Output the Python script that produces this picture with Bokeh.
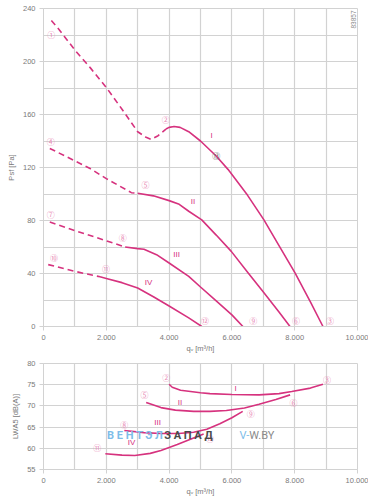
from math import pi
from bokeh.plotting import figure
from bokeh.layouts import column
from bokeh.models import FixedTicker, CustomJSTickFormatter, Label, Range1d
from bokeh.core.properties import value
from bokeh.embed import file_html
from bokeh.resources import INLINE

PINK = "#d6327e"
MARK = "#e98cb7"
GRID = "#d2d2d2"
TXT = "#7a7a7a"

# ---------------- top chart: static pressure vs flow ----------------
x_ticks = [0, 2000, 4000, 6000, 8000, 10000]
x_grid = [0, 1000, 2000, 3000, 4000, 5000, 6000, 7000, 8000, 9000, 10000]
p_ticks = [0, 40, 80, 120, 160, 200, 240]
p_grid = [0, 20, 40, 60, 80, 100, 120, 140, 160, 180, 200, 220, 240]

I_dash_x = [250, 500, 1000, 1500, 2000, 2500, 3000, 3250, 3430, 3650, 3900]
I_dash_y = [231, 224, 208.6, 195, 180.4, 164, 147, 143, 141.2, 144, 149]
I_x = [3900, 4000, 4160, 4350, 4625, 5000, 5500, 5875, 6500, 7020, 7500, 8010, 8500, 8900]
I_y = [149, 150.3, 151, 150.3, 147, 140, 128.7, 118.6, 99, 80.5, 61, 40.4, 18.5, 0]

II_dash_x = [200, 1000, 1500, 2000, 2800, 3000]
II_dash_y = [134.4, 125, 119, 111.6, 101, 100.6]
II_x = [3000, 3500, 4000, 4300, 4625, 5040, 5500, 5980, 6500, 7020, 7500, 7850]
II_y = [100.6, 98.6, 95, 92.5, 87, 80.5, 69, 56.7, 41, 25.4, 10.9, 0]

III_dash_x = [200, 1000, 2000, 2600]
III_dash_y = [78.8, 72.4, 64.7, 60]
III_x = [2600, 3000, 3200, 3600, 4000, 4625, 5000, 5500, 6000, 6350]
III_y = [60, 58.8, 58.3, 54.2, 47.9, 37.8, 29.8, 19.3, 8.8, 0]

IV_dash_x = [150, 1000, 1800]
IV_dash_y = [46.7, 41.6, 37.5]
IV_x = [1800, 2000, 2500, 3000, 3500, 4000, 4625, 5040]
IV_y = [37.5, 36.3, 33.1, 29, 22.5, 15.5, 6.5, 0]

top_mark_txt = ["①", "②", "③", "④", "⑤", "⑥", "⑦", "⑧", "⑨", "⑩", "⑪", "⑫"]
top_mark_x = [250, 3897, 9125, 228, 3250, 8040, 228, 2522, 6678, 334, 1990, 5147]
top_mark_y = [220.5, 156.3, 4.7, 140, 106.8, 4.5, 84.3, 67.2, 4.5, 51.7, 43.6, 4.5]
op_txt = ["⑬"]
op_x = [5500]
op_y = [128.7]

roman = ["I", "II", "III", "IV"]
top_roman_x = [5353, 4760, 4240, 3344]
top_roman_y = [144.5, 94.3, 54.2, 33.3]

# ---------------- bottom chart: sound power vs flow ----------------
l_ticks = [55, 60, 65, 70, 75, 80]

LI_x = [4000, 4100, 4365, 5000, 5300, 6000, 6865, 7500, 7906, 8500, 8900]
LI_y = [75.1, 74.4, 73.7, 73.1, 72.9, 72.7, 72.6, 72.9, 73.4, 74.2, 75.1]
LII_x = [3270, 3740, 4200, 4781, 5300, 5823, 6400, 6865, 7400, 7854]
LII_y = [70.8, 69.6, 69.0, 68.7, 68.7, 68.9, 69.5, 70.4, 71.5, 72.6]
LIII_x = [2573, 3200, 3740, 4300, 4781, 5200, 5615, 6000, 6344]
LIII_y = [64.2, 63.7, 63.5, 63.5, 63.8, 64.5, 65.8, 67.2, 68.7]
LIV_x = [1969, 2500, 2906, 3400, 3740, 4260, 4700, 5100]
LIV_y = [58.7, 58.4, 58.3, 58.8, 59.5, 60.9, 62.2, 63.4]

bot_mark_txt = ["②", "③", "⑤", "⑥", "⑧", "⑨", "⑪", "⑫"]
bot_mark_x = [3906, 9031, 3219, 7958, 2573, 6604, 1708, 5302]
bot_mark_y = [76.6, 76.3, 72.6, 70.8, 65.7, 68.1, 60.1, 62.2]
bot_roman_x = [6115, 4344, 3635, 2802]
bot_roman_y = [74.2, 70.7, 66.1, 61.4]

fmt = CustomJSTickFormatter(code="return tick == 0 ? '0' : (tick/1000).toFixed(3);")


def style(p, yt, ygrid, xlabel, ylabel):
    p.xaxis.ticker = FixedTicker(ticks=x_ticks)
    p.yaxis.ticker = FixedTicker(ticks=yt)
    p.xaxis.formatter = fmt
    p.xgrid.ticker = FixedTicker(ticks=x_grid)
    p.ygrid.ticker = FixedTicker(ticks=ygrid)
    p.grid.grid_line_color = GRID
    p.grid.grid_line_width = 1.2
    p.axis.axis_line_color = GRID
    p.axis.major_tick_line_color = GRID
    p.axis.major_tick_in = 0
    p.axis.major_tick_out = 4
    p.axis.minor_tick_line_color = None
    p.axis.major_label_text_font = "Liberation Sans"
    p.axis.major_label_text_font_size = "7.5px"
    p.axis.major_label_text_color = TXT
    p.axis.major_label_standoff = 4
    p.xaxis.axis_label = xlabel
    p.yaxis.axis_label = ylabel
    p.axis.axis_label_text_font = "Liberation Sans"
    p.axis.axis_label_text_font_size = "7.5px"
    p.axis.axis_label_text_font_style = "normal"
    p.axis.axis_label_text_color = TXT
    p.xaxis.axis_label_standoff = 1
    p.yaxis.axis_label_standoff = 4
    p.outline_line_color = GRID
    p.background_fill_color = "white"
    p.border_fill_color = "white"


p1 = figure(width=365, height=352, x_range=Range1d(0, 10000), y_range=Range1d(0, 240),
            output_backend="svg", toolbar_location=None,
            min_border_left=34, min_border_right=11, min_border_top=5, min_border_bottom=28)
style(p1, p_ticks, p_grid, "qᵥ [m³/h]", "Psf [Pa]")

for dx, dy, sx, sy in [(I_dash_x, I_dash_y, I_x, I_y), (II_dash_x, II_dash_y, II_x, II_y),
                       (III_dash_x, III_dash_y, III_x, III_y), (IV_dash_x, IV_dash_y, IV_x, IV_y)]:
    p1.line(dx, dy, line_color=PINK, line_width=1.6, line_dash="6 4")
    p1.line(sx, sy, line_color=PINK, line_width=1.6)

p1.text(x=top_mark_x, y=top_mark_y, text=top_mark_txt, text_font=value("Noto Sans CJK JP"),
        text_font_size="8px", text_color=MARK, text_align="center", text_baseline="middle")
p1.text(x=op_x, y=op_y, text=op_txt, text_font=value("Noto Sans CJK JP"),
        text_font_size="8px", text_color="#666666", text_align="center", text_baseline="middle")
p1.text(x=top_roman_x, y=top_roman_y, text=roman, text_font=value("Liberation Sans"),
        text_font_size="8px", text_color=PINK, text_align="center", text_baseline="middle")

p1.add_layout(Label(x=9875, y=238.5, text="83857", angle=pi / 2, text_align="right",
                    text_baseline="middle", text_font="Liberation Sans", text_font_size="6.5px",
                    text_color="#888888"))

p2 = figure(width=365, height=144, x_range=Range1d(0, 10000), y_range=Range1d(55, 80),
            output_backend="svg", toolbar_location=None,
            min_border_left=34, min_border_right=11, min_border_top=8, min_border_bottom=30)
style(p2, l_ticks, l_ticks, "qᵥ [m³/h]", "LWA5 [dB(A)]")

for sx, sy in [(LI_x, LI_y), (LII_x, LII_y), (LIII_x, LIII_y), (LIV_x, LIV_y)]:
    p2.line(sx, sy, line_color=PINK, line_width=1.6)

p2.text(x=bot_mark_x, y=bot_mark_y, text=bot_mark_txt, text_font=value("Noto Sans CJK JP"),
        text_font_size="8px", text_color=MARK, text_align="center", text_baseline="middle")
p2.text(x=bot_roman_x, y=bot_roman_y, text=roman, text_font=value("Liberation Sans"),
        text_font_size="8px", text_color=PINK, text_align="center", text_baseline="middle")

# watermark
p2.add_layout(Label(x=2022, y=63.0, text="В Е Н Т Э Л", text_align="left", text_baseline="middle",
                    text_font="Roboto", text_font_style="bold", text_font_size="11px",
                    text_color="#7dbde9"))
p2.add_layout(Label(x=3844, y=63.0, text="З А П А Д", text_align="left", text_baseline="middle",
                    text_font="Roboto", text_font_style="bold", text_font_size="11px",
                    text_color="#4a4a4a"))
p2.add_layout(Label(x=6240, y=63.0, text="V-", text_align="left", text_baseline="middle",
                    text_font="Roboto", text_font_size="11px", text_color="#7dbde9"))
p2.add_layout(Label(x=6553, y=63.0, text="W.BY", text_align="left", text_baseline="middle",
                    text_font="Roboto", text_font_size="11px", text_color="#8a8a8a"))

layout = column(p1, p2, spacing=0, styles={"margin-top": "3px", "margin-left": "3px"})

open("out.html", "w").write(file_html(layout, INLINE))
